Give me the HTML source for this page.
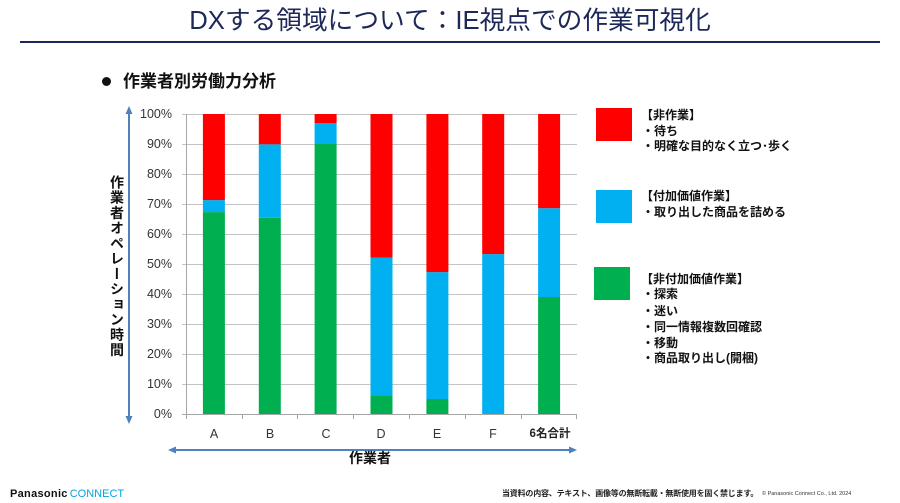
<!DOCTYPE html>
<html><head><meta charset="utf-8">
<style>
html,body{margin:0;padding:0;background:#fff;}
body{width:900px;height:503px;position:relative;overflow:hidden;font-family:"Liberation Sans","Noto Sans CJK JP",sans-serif;}
.abs{position:absolute;white-space:nowrap;}
.title{left:0;width:900px;top:5px;text-align:center;font-size:25.7px;line-height:32px;color:#1c2858;}
.hline{left:20px;top:41px;width:860px;height:2px;background:#1c2858;}
.sec{left:123px;top:71px;font-size:17px;font-weight:bold;line-height:22px;color:#111;}
.dot{left:102px;top:77px;width:9px;height:9px;border-radius:50%;background:#111;}
.ylab{font-size:12.5px;color:#333;line-height:14px;width:50px;text-align:right;left:122px;}
.xlab{font-size:12.5px;color:#333;line-height:14px;width:40px;text-align:center;top:427px;}
.vlab{left:109px;top:175px;writing-mode:vertical-rl;font-size:14px;font-weight:bold;letter-spacing:1.25px;line-height:16px;color:#111;}
.leg{font-size:12px;font-weight:bold;line-height:15px;color:#111;left:641px;}
.sw{width:36px;height:33px;}
</style></head><body>
<div class="abs title">DXする領域について：IE視点での作業可視化</div>
<div class="abs hline"></div>
<div class="abs dot"></div>
<div class="abs sec">作業者別労働力分析</div>

<svg class="abs" style="left:0;top:0" width="900" height="503" viewBox="0 0 900 503">
  <g stroke="#c4c4c4" stroke-width="1">
    <line x1="182" y1="114.5" x2="577" y2="114.5"/>
    <line x1="182" y1="144.5" x2="577" y2="144.5"/>
    <line x1="182" y1="174.5" x2="577" y2="174.5"/>
    <line x1="182" y1="204.5" x2="577" y2="204.5"/>
    <line x1="182" y1="234.5" x2="577" y2="234.5"/>
    <line x1="182" y1="264.5" x2="577" y2="264.5"/>
    <line x1="182" y1="294.5" x2="577" y2="294.5"/>
    <line x1="182" y1="324.5" x2="577" y2="324.5"/>
    <line x1="182" y1="354.5" x2="577" y2="354.5"/>
    <line x1="182" y1="384.5" x2="577" y2="384.5"/>
  </g>
  <g stroke="#a6a6a6" stroke-width="1">
    <line x1="186.5" y1="114" x2="186.5" y2="414"/>
    <line x1="182" y1="414.5" x2="577" y2="414.5"/>
    <line x1="186.5" y1="414" x2="186.5" y2="419"/>
    <line x1="242.5" y1="414" x2="242.5" y2="419"/>
    <line x1="297.5" y1="414" x2="297.5" y2="419"/>
    <line x1="353.5" y1="414" x2="353.5" y2="419"/>
    <line x1="409.5" y1="414" x2="409.5" y2="419"/>
    <line x1="465.5" y1="414" x2="465.5" y2="419"/>
    <line x1="521.5" y1="414" x2="521.5" y2="419"/>
    <line x1="576.5" y1="414" x2="576.5" y2="419"/>
  </g>
  <!-- A -->
  <rect x="202.9" y="212.1" width="22" height="201.9" fill="#00b050"/>
  <rect x="202.9" y="200.1" width="22" height="12" fill="#00b0f0"/>
  <rect x="202.9" y="114" width="22" height="86.1" fill="#ff0000"/>
  <!-- B -->
  <rect x="258.8" y="217.8" width="22" height="196.2" fill="#00b050"/>
  <rect x="258.8" y="144.3" width="22" height="73.5" fill="#00b0f0"/>
  <rect x="258.8" y="114" width="22" height="30.3" fill="#ff0000"/>
  <!-- C -->
  <rect x="314.6" y="143.4" width="22" height="270.6" fill="#00b050"/>
  <rect x="314.6" y="123.3" width="22" height="20.1" fill="#00b0f0"/>
  <rect x="314.6" y="114" width="22" height="9.3" fill="#ff0000"/>
  <!-- D -->
  <rect x="370.5" y="396" width="22" height="18" fill="#00b050"/>
  <rect x="370.5" y="257.7" width="22" height="138.3" fill="#00b0f0"/>
  <rect x="370.5" y="114" width="22" height="143.7" fill="#ff0000"/>
  <!-- E -->
  <rect x="426.4" y="399" width="22" height="15" fill="#00b050"/>
  <rect x="426.4" y="272.1" width="22" height="126.9" fill="#00b0f0"/>
  <rect x="426.4" y="114" width="22" height="158.1" fill="#ff0000"/>
  <!-- F -->
  <rect x="482.2" y="254.1" width="22" height="159.9" fill="#00b0f0"/>
  <rect x="482.2" y="114" width="22" height="140.1" fill="#ff0000"/>
  <!-- Total -->
  <rect x="538.1" y="297" width="22" height="117" fill="#00b050"/>
  <rect x="538.1" y="208.2" width="22" height="88.8" fill="#00b0f0"/>
  <rect x="538.1" y="114" width="22" height="94.2" fill="#ff0000"/>

  <!-- vertical arrow -->
  <line x1="129" y1="112" x2="129" y2="418" stroke="#4f81bd" stroke-width="2"/>
  <polygon points="129,106 125.5,114 132.5,114" fill="#4f81bd"/>
  <polygon points="129,424 125.5,416 132.5,416" fill="#4f81bd"/>
  <!-- horizontal arrow -->
  <line x1="173" y1="450" x2="572" y2="450" stroke="#4f81bd" stroke-width="2"/>
  <polygon points="168,450 176,446.5 176,453.5" fill="#4f81bd"/>
  <polygon points="577,450 569,446.5 569,453.5" fill="#4f81bd"/>
</svg>

<div class="abs ylab" style="top:107px">100%</div>
<div class="abs ylab" style="top:137px">90%</div>
<div class="abs ylab" style="top:167px">80%</div>
<div class="abs ylab" style="top:197px">70%</div>
<div class="abs ylab" style="top:227px">60%</div>
<div class="abs ylab" style="top:257px">50%</div>
<div class="abs ylab" style="top:287px">40%</div>
<div class="abs ylab" style="top:317px">30%</div>
<div class="abs ylab" style="top:347px">20%</div>
<div class="abs ylab" style="top:377px">10%</div>
<div class="abs ylab" style="top:407px">0%</div>

<div class="abs xlab" style="left:194px">A</div>
<div class="abs xlab" style="left:250px">B</div>
<div class="abs xlab" style="left:306px">C</div>
<div class="abs xlab" style="left:361px">D</div>
<div class="abs xlab" style="left:417px">E</div>
<div class="abs xlab" style="left:473px">F</div>
<div class="abs xlab" style="left:520px;width:60px;font-size:11.5px;font-weight:bold;color:#222">6名合計</div>

<div class="abs vlab">作業者オペレーション時間</div>
<div class="abs" style="left:349px;top:450px;font-size:14px;font-weight:bold;line-height:16px;color:#111">作業者</div>

<div class="abs sw" style="left:596px;top:108px;background:#ff0000"></div>
<div class="abs sw" style="left:596px;top:190px;background:#00b0f0"></div>
<div class="abs sw" style="left:594px;top:267px;background:#00b050"></div>

<div class="abs leg" style="top:107.5px">【非作業】</div>
<div class="abs leg" style="top:124px;left:642px">・待ち</div>
<div class="abs leg" style="top:139px;left:642px">・明確な目的なく立つ･歩く</div>

<div class="abs leg" style="top:189px">【付加価値作業】</div>
<div class="abs leg" style="top:204.5px;left:642px">・取り出した商品を詰める</div>

<div class="abs leg" style="top:272px">【非付加価値作業】</div>
<div class="abs leg" style="top:287px;left:642px">・探索</div>
<div class="abs leg" style="top:303.5px;left:642px">・迷い</div>
<div class="abs leg" style="top:320px;left:642px">・同一情報複数回確認</div>
<div class="abs leg" style="top:336px;left:642px">・移動</div>
<div class="abs leg" style="top:351px;left:642px">・商品取り出し(開梱)</div>

<div class="abs" style="left:10px;top:487px;font-size:11px;line-height:14px;">
  <span style="font-weight:bold;color:#111;letter-spacing:0.3px">Panasonic</span><span style="color:#00a3e0;margin-left:2px">CONNECT</span>
</div>
<div class="abs" style="left:502px;top:489px;font-size:8px;line-height:10px;color:#222;font-weight:bold;letter-spacing:-0.2px">当資料の内容、テキスト、画像等の無断転載・無断使用を固く禁じます。</div>
<div class="abs" style="left:762px;top:491px;font-size:5.5px;line-height:7px;color:#333">© Panasonic Connect Co., Ltd. 2024</div>
</body></html>
